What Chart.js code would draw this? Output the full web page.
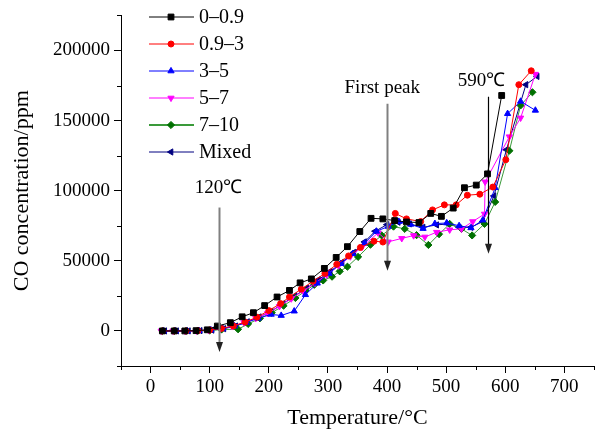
<!DOCTYPE html>
<html>
<head>
<meta charset="utf-8">
<script src="https://cdn.jsdelivr.net/npm/chart.js@4"></script>
<style>
  html, body { margin: 0; padding: 0; background: #fff; }
  #wrap { width: 599px; height: 435px; }
</style>
</head>
<body>
<div id="wrap"><canvas id="coChart" width="599" height="435"></canvas></div>
<script>
// temperatures (°C) and CO concentration (ppm) per particle size group
var tBlack = [20,40,58,77,96,113,135,155,174,193,214,235,253,272,294,314,333,354,373,393,413,433,454,474,492,512,531,551,570,594];
var cBlack = [0,0,0,200,800,3500,5900,10100,13000,18100,24200,28900,34300,37100,44600,52400,60100,70900,80300,79900,78700,77700,77300,83800,81700,87600,102100,104000,112000,167900];

var tRed = [20,40,60,80,100,120,140,160,180,200,220,235,255,275,295,315,335,355,378,393,414,433,457,477,497,517,536,557,579,601,623,644];
var cRed = [0,0,0,200,700,1800,3600,6300,9800,14500,19500,24200,29800,35500,41000,47500,53500,59500,64000,63400,83800,79900,78000,86300,89900,89900,96800,97500,102600,122100,175600,185500];

var tBlue = [22,42,62,82,102,122,142,162,182,204,221,243,262,282,302,322,342,362,382,402,420,440,461,481,501,522,542,562,583,604,626,651];
var cBlue = [0,0,0,200,700,1800,3500,6000,9000,11800,11000,14100,25800,34000,41000,48000,55000,62500,71000,74500,78000,76000,73000,76500,77000,75000,73500,79000,102100,154900,163700,157300];

var tMag = [18,38,58,78,98,118,138,158,178,198,218,238,258,278,298,318,338,358,385,402,425,445,464,484,506,526,545,565,566,607,626,651];
var cMag = [0,0,0,0,500,1500,3200,6000,9000,12500,17500,23000,28500,34000,40000,46500,53000,60000,70000,63500,66000,68000,67000,70400,72100,72800,78000,83400,106300,138500,151900,183100];

var tGreen = [20,40,60,80,100,120,148,165,185,205,225,245,262,277,292,307,320,333,351,372,391,411,430,450,470,488,506,526,544,565,583,607,626,646];
var cGreen = [0,0,0,0,300,1000,1200,5000,9000,13000,18000,23500,28500,32900,36000,38700,42500,45800,52800,61500,68100,74400,72800,68300,61300,69000,76300,72800,68100,76300,92000,128500,160800,170200];

var tNavy = [24,44,64,84,104,124,144,164,184,204,224,244,264,284,304,324,344,362,380,400,419,438,461,484,503,522,542,562,581,602,635,654];
var cNavy = [0,0,0,200,600,1600,3500,6500,10000,14000,19500,25000,30500,36500,42500,49000,56000,63500,71100,75800,77500,76300,73900,75600,76300,73900,73900,78000,96300,129200,175600,181500];

var seriesNames = ["0–0.9", "0.9–3", "3–5", "5–7", "7–10", "Mixed"];

var xTicks = [-50,0,50,100,150,200,250,300,350,400,450,500,550,600,650,700,750];
var xLabels = [0,100,200,300,400,500,600,700];
var yTicks = [-25000,0,25000,50000,75000,100000,125000,150000,175000,200000,225000];
var yLabels = [0,50000,100000,150000,200000];

// annotations: [temperature, top value, bottom value, colour]
var arrows = [
    [115, 88000, -15000, "#808080"],
    [400, 162000, 43000, "#808080"],
    [571, 167000, 55000, "#000000"]
];
var notes = [
    ["120℃", 115, 102000],
    ["First peak", 392, 173000],
    ["590℃", 560, 178500]
];

var SERIF = "'Liberation Serif', 'Times New Roman', serif";

function pts(t, c) {
    return t.map(function (v, i) { return { x: v, y: c[i] }; });
}

function ds(label, t, c, color, style, rot, r) {
    return {
        label: label,
        data: pts(t, c),
        borderColor: color,
        backgroundColor: color,
        borderWidth: 1,
        pointStyle: style,
        pointRotation: rot,
        pointRadius: r,
        pointBorderWidth: 1,
        pointHoverRadius: r,
        fill: false,
        tension: 0
    };
}

var datasets = [
    ds(seriesNames[0], tBlack, cBlack, "#000000", "rect", 0, 4.1),
    ds(seriesNames[1], tRed, cRed, "#ff0000", "circle", 0, 3),
    ds(seriesNames[2], tBlue, cBlue, "#0000ff", "triangle", 0, 3.6),
    ds(seriesNames[3], tMag, cMag, "#ff00ff", "triangle", 180, 3.6),
    ds(seriesNames[4], tGreen, cGreen, "#008000", "rectRot", 0, 3.6),
    ds(seriesNames[5], tNavy, cNavy, "#000080", "triangle", -90, 3.6)
];
datasets[4].borderColor = "#3a9a3a";
datasets[4].pointBorderColor = "#007000";
datasets[4].pointBackgroundColor = "#007000";

// minor ticks are drawn shorter, labelled ones use the library tick
var minorTicks = {
    id: "minorTicks",
    afterDatasetsDraw: function (chart) {
        var ctx = chart.ctx;
        var xs = chart.scales.x, ys = chart.scales.y;
        ctx.save();
        ctx.strokeStyle = "#000";
        ctx.lineWidth = 1;
        ctx.beginPath();
        xTicks.forEach(function (v) {
            if (xLabels.indexOf(v) >= 0) return;
            var px = Math.round(xs.getPixelForValue(v)) + 0.5;
            ctx.moveTo(px, ys.bottom);
            ctx.lineTo(px, ys.bottom + 4);
        });
        yTicks.forEach(function (v) {
            if (yLabels.indexOf(v) >= 0) return;
            var py = Math.round(ys.getPixelForValue(v)) + 0.5;
            ctx.moveTo(xs.left, py);
            ctx.lineTo(xs.left - 4, py);
        });
        ctx.stroke();

        // arrows
        arrows.forEach(function (a) {
            var px = Math.round(xs.getPixelForValue(a[0])) + 0.5;
            var y1 = ys.getPixelForValue(a[1]);
            var y2 = ys.getPixelForValue(a[2]);
            ctx.strokeStyle = a[3];
            ctx.lineWidth = a[3] === "#000000" ? 1.2 : 2;
            ctx.beginPath();
            ctx.moveTo(px, y1);
            ctx.lineTo(px, y2 - 8);
            ctx.stroke();
            ctx.fillStyle = "#222";
            ctx.beginPath();
            ctx.moveTo(px - 3.5, y2 - 10);
            ctx.lineTo(px + 3.5, y2 - 10);
            ctx.lineTo(px, y2);
            ctx.closePath();
            ctx.fill();
        });

        ctx.fillStyle = "#000";
        ctx.textAlign = "center";
        ctx.textBaseline = "middle";
        ctx.font = "19px " + SERIF;
        notes.forEach(function (n) {
            ctx.fillText(n[0], xs.getPixelForValue(n[1]), ys.getPixelForValue(n[2]));
        });

        // legend, line with marker in the middle
        var lx0 = 149, lx1 = 194, ly = 17;
        ctx.font = "20px " + SERIF;
        ctx.textAlign = "left";
        chart.data.datasets.forEach(function (d, i) {
            var y = ly + i * 27;
            ctx.strokeStyle = d.borderColor;
            ctx.lineWidth = i === 4 ? 2 : 1;
            ctx.beginPath();
            ctx.moveTo(lx0, y);
            ctx.lineTo(lx1, y);
            ctx.stroke();
            ctx.fillStyle = d.pointBackgroundColor || d.backgroundColor;
            ctx.strokeStyle = d.pointBorderColor || d.borderColor;
            ctx.lineWidth = 1;
            Chart.helpers.drawPoint(ctx, {
                pointStyle: d.pointStyle,
                rotation: d.pointRotation,
                radius: d.pointRadius,
                borderWidth: 1
            }, 171, y);
            ctx.fillStyle = "#000";
            ctx.fillText(d.label, 199, y + 1);
        });
        ctx.restore();
    }
};

var ctx = document.getElementById("coChart").getContext("2d");

var options = {
    responsive: false,
    animation: false,
    layout: { padding: { top: 11, right: 0, left: 0, bottom: 0 } },
    plugins: {
        legend: { display: false },
        tooltip: { enabled: false }
    },
    scales: {
        x: {
            type: "linear",
            min: -50,
            max: 750,
            afterBuildTicks: function (s) {
                s.ticks = xTicks.map(function (v) { return { value: v }; });
            },
            afterFit: function (s) { s.height = 69; },
            ticks: {
                autoSkip: false,
                maxRotation: 0,
                padding: 3,
                color: "#000",
                font: { family: SERIF, size: 19 },
                callback: function (v) { return xLabels.indexOf(v) >= 0 ? String(v) : ""; }
            },
            grid: {
                drawOnChartArea: false,
                tickLength: 7,
                tickColor: function (c) {
                    return c.tick && xLabels.indexOf(c.tick.value) >= 0 ? "#000" : "rgba(0,0,0,0)";
                }
            },
            border: { display: true, color: "#000", width: 1 },
            title: {
                display: true,
                text: "Temperature/°C",
                color: "#000",
                font: { family: SERIF, size: 22 },
                padding: { top: 4, bottom: 4 }
            }
        },
        y: {
            type: "linear",
            min: -25000,
            max: 225000,
            afterBuildTicks: function (s) {
                s.ticks = yTicks.map(function (v) { return { value: v }; });
            },
            afterFit: function (s) { s.width = 121; },
            ticks: {
                autoSkip: false,
                padding: 4,
                color: "#000",
                font: { family: SERIF, size: 19 },
                callback: function (v) { return yLabels.indexOf(v) >= 0 ? String(v) : ""; }
            },
            grid: {
                drawOnChartArea: false,
                tickLength: 7,
                tickColor: function (c) {
                    return c.tick && yLabels.indexOf(c.tick.value) >= 0 ? "#000" : "rgba(0,0,0,0)";
                }
            },
            border: { display: true, color: "#000", width: 1 },
            title: {
                display: true,
                text: "CO concentration/ppm",
                color: "#000",
                font: { family: SERIF, size: 22 },
                padding: { top: 9, bottom: 3 }
            }
        }
    }
};

var myChart = new Chart(ctx, {
    type: "line",
    data: { datasets: datasets },
    options: options,
    plugins: [minorTicks]
});
</script>
</body>
</html>
